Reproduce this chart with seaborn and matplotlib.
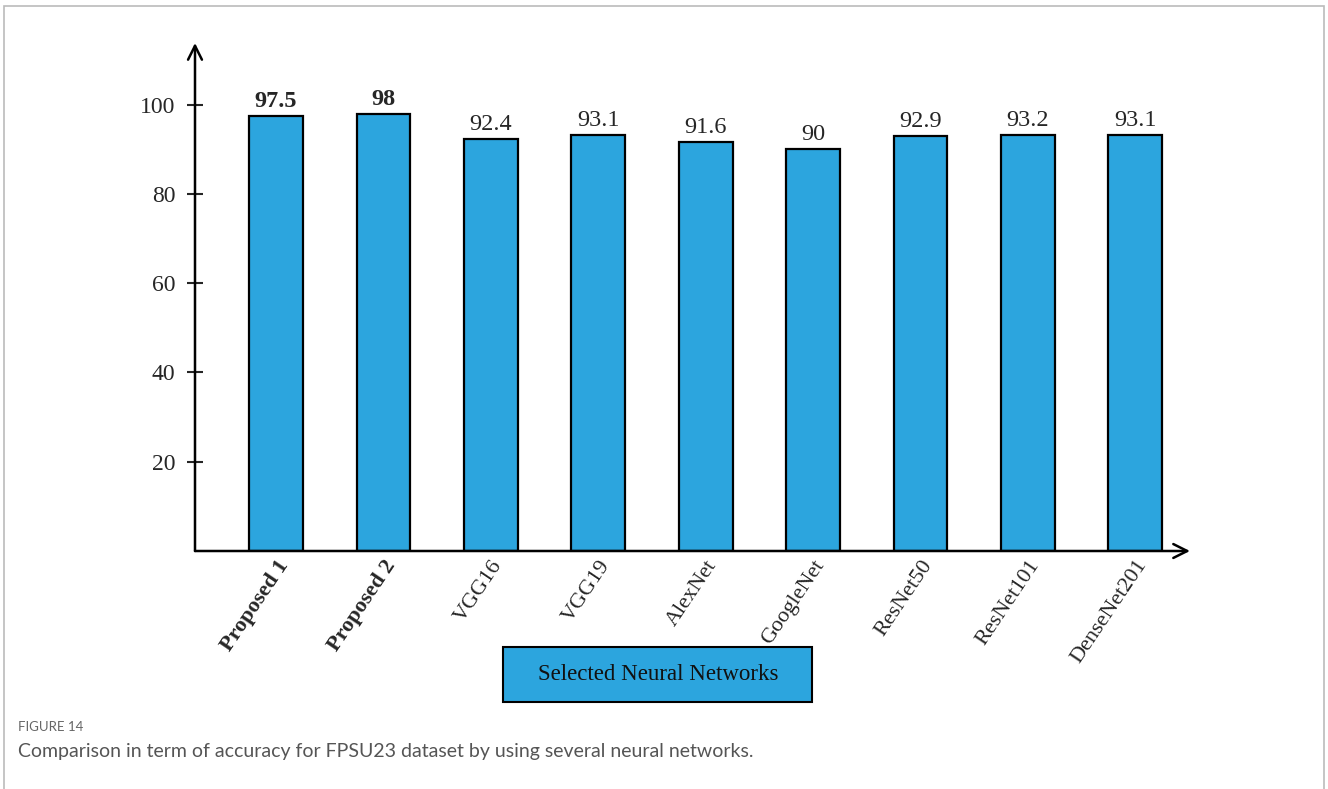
import matplotlib
matplotlib.use("Agg")
import matplotlib.pyplot as plt
import seaborn as sns
import pandas as pd
from matplotlib.patches import Rectangle

categories = ["Proposed 1", "Proposed 2", "VGG16", "VGG19", "AlexNet",
              "GoogleNet", "ResNet50", "ResNet101", "DenseNet201"]
accuracy = [97.5, 98, 92.4, 93.1, 91.6, 90, 92.9, 93.2, 93.1]
value_labels = ["97.5", "98", "92.4", "93.1", "91.6", "90", "92.9", "93.2", "93.1"]
bold_flags = [True, True, False, False, False, False, False, False, False]
y_ticks = [20, 40, 60, 80, 100]
x_title = "Selected Neural Networks"
fig_label = "FIGURE 14"
caption = "Comparison in term of accuracy for FPSU23 dataset by using several neural networks."

df = pd.DataFrame({"model": categories, "acc": accuracy})

sns.set_style("white")
plt.rcParams["font.family"] = ["Liberation Serif", "DejaVu Serif"]

W, H = 1328, 789
fig = plt.figure(figsize=(W / 100, H / 100), dpi=100)
ax = fig.add_axes([195 / W, 1 - 551 / H, (1190 - 195) / W, (551 - 43) / H])

BAR = "#2ca5de"
sns.barplot(data=df, x="model", y="acc", color=BAR, width=0.5,
            edgecolor="black", linewidth=1.6, saturation=1, ax=ax)

ax.set_xlim(-0.755, 8.51)
ax.set_ylim(0, 113.8)
for s in ax.spines.values():
    s.set_visible(False)

# axes with arrows
ax.annotate("", xy=(0, 1.0), xytext=(0, 0), xycoords="axes fraction",
            arrowprops=dict(arrowstyle="->,head_length=1.0,head_width=0.5",
                            lw=1.8, color="black", shrinkA=0, shrinkB=0))
ax.annotate("", xy=(1.0, 0), xytext=(0, 0), xycoords="axes fraction",
            arrowprops=dict(arrowstyle="->,head_length=1.0,head_width=0.5",
                            lw=1.8, color="black", shrinkA=0, shrinkB=0))

ax.set_yticks(y_ticks)
ax.set_yticklabels([str(t) for t in y_ticks], fontsize=17)
ax.tick_params(axis="y", direction="inout", length=12, width=1.5, pad=8, left=True)
ax.tick_params(axis="x", length=0, pad=4)
ax.set_xlabel("")
ax.set_ylabel("")

ax.set_xticks(range(len(categories)))
ax.set_xticklabels(categories, rotation=56, ha="right", rotation_mode="anchor", fontsize=16)
for lbl, b in zip(ax.get_xticklabels(), bold_flags):
    if b:
        lbl.set_fontweight("bold")

for i, (v, t, b) in enumerate(zip(accuracy, value_labels, bold_flags)):
    ax.text(i, v + 0.9, t, ha="center", va="bottom", fontsize=17.5,
            fontweight="bold" if b else "normal")

# x-axis title box
fig.patches.append(Rectangle((503 / W, 1 - 702 / H), (812 - 503) / W, (702 - 647) / H,
                             transform=fig.transFigure, facecolor=BAR,
                             edgecolor="black", linewidth=1.5))
fig.text(658 / W, 1 - 675 / H, x_title, ha="center", va="center", fontsize=16.5,
         color="#111111")

# outer frame
fig.patches.append(Rectangle((4 / W, -0.01), (1324 - 4) / W, 1 - 6 / H + 0.01,
                             transform=fig.transFigure, facecolor="none",
                             edgecolor="#bbbbbb", linewidth=1.2))

fig.text(18 / W, 1 - 727 / H, fig_label, ha="left", va="center", fontsize=9.5,
         color="#666666", family=["Lato", "DejaVu Sans"])
fig.text(18 / W, 1 - 752 / H, caption, ha="left", va="center", fontsize=14,
         color="#555555", family=["Lato", "DejaVu Sans"])

fig.savefig("out.png", dpi=100)
